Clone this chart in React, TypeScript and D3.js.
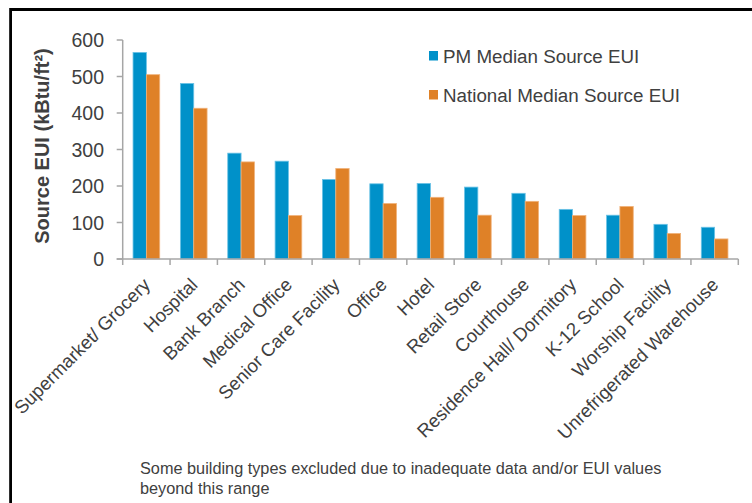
import React from "react";
import * as d3 from "d3";

const categories = [
  "Supermarket/ Grocery",
  "Hospital",
  "Bank Branch",
  "Medical Office",
  "Senior Care Facility",
  "Office",
  "Hotel",
  "Retail Store",
  "Courthouse",
  "Residence Hall/ Dormitory",
  "K-12 School",
  "Worship Facility",
  "Unrefrigerated Warehouse",
];
const pmMedian = [566, 481, 290, 268, 218, 206, 207, 197, 180, 136, 120, 95, 87];
const nationalMedian = [505, 413, 266, 119, 248, 152, 169, 120, 158, 119, 144, 70, 55];
const seriesNames = ["PM Median Source EUI", "National Median Source EUI"];
const seriesColors = ["#0091C9", "#DF8127"];
const seriesStrokes = ["#6cc3e6", "#f0b27a"];
const yTicks = [0, 100, 200, 300, 400, 500, 600];
const footnote = [
  "Some building types excluded due to inadequate data and/or EUI values",
  "beyond this range",
];

const W = 752;
const H = 503;
const FONT = "'Liberation Sans', Arial, sans-serif";
const TXT = "#404040";
const AXIS = "#a6a6a6";

export default function App() {
  const x = d3.scaleBand<string>().domain(categories).range([122.7, 738.3]).paddingInner(0).paddingOuter(0);
  const inner = d3
    .scaleBand<number>()
    .domain([0, 1])
    .range([0, x.bandwidth()])
    .paddingInner(0)
    .paddingOuter(0.775);
  const y = d3.scaleLinear().domain([0, 600]).range([259, 40]);
  const series = [pmMedian, nationalMedian];
  const x1 = x.range()[1];
  const yAxisX = 122.7;

  return (
    <div style={{ position: "fixed", left: 0, top: 0, width: W, height: H, background: "#fff" }}>
      <svg width={W} height={H} style={{ display: "block" }} fontFamily={FONT}>
        <rect x={0} y={0} width={W} height={H} fill="#fff" />
        <path d={`M10.6,${H + 5} V9.5 H${W + 5}`} fill="none" stroke="#000" strokeWidth={2.8} />

        {categories.map((c, i) =>
          series.map((s, j) => (
            <rect
              key={c + j}
              x={(x(c) as number) + (inner(j) as number)}
              y={y(s[i])}
              width={inner.bandwidth()}
              height={y(0) - y(s[i])}
              fill={seriesColors[j]}
              stroke={seriesStrokes[j]}
              strokeWidth={0.8}
            />
          ))
        )}

        <line x1={yAxisX} x2={yAxisX} y1={y(600)} y2={y(0)} stroke={AXIS} strokeWidth={1.5} />
        {yTicks.map((t) => (
          <g key={t}>
            <line x1={yAxisX - 6} x2={yAxisX} y1={y(t)} y2={y(t)} stroke={AXIS} strokeWidth={1.5} />
            <text x={104} y={y(t)} dy="0.36em" textAnchor="end" fontSize={19.5} fill={TXT}>
              {t}
            </text>
          </g>
        ))}

        <line x1={yAxisX - 6} x2={x1} y1={y(0)} y2={y(0)} stroke={AXIS} strokeWidth={1.5} />
        {categories.map((c) => (
          <line key={"t" + c} x1={x(c)} x2={x(c)} y1={y(0)} y2={y(0) + 6} stroke={AXIS} strokeWidth={1.5} />
        ))}
        <line x1={x1} x2={x1} y1={y(0)} y2={y(0) + 6} stroke={AXIS} strokeWidth={1.5} />
        {categories.map((c) => {
          const cx = (x(c) as number) + x.bandwidth() / 2;
          return (
            <text
              key={"l" + c}
              transform={`translate(${cx + 5},${y(0) + 27}) rotate(-45)`}
              textAnchor="end"
              fontSize={18.6}
              fill={TXT}
            >
              {c}
            </text>
          );
        })}

        <text
          transform={`translate(49,146) rotate(-90)`}
          textAnchor="middle"
          fontSize={20}
          fontWeight="bold"
          fill={TXT}
        >
          Source EUI (kBtu/ft²)
        </text>

        {seriesNames.map((n, j) => (
          <g key={n} transform={`translate(429,${51 + j * 39})`}>
            <rect x={0} y={0} width={9} height={9.5} fill={seriesColors[j]} />
            <text x={14} y={11.5} fontSize={18.8} fill={TXT}>
              {n}
            </text>
          </g>
        ))}

        {footnote.map((l, i) => (
          <text key={i} x={140} y={474 + i * 20} fontSize={16.3} fill={TXT}>
            {l}
          </text>
        ))}
      </svg>
    </div>
  );
}
